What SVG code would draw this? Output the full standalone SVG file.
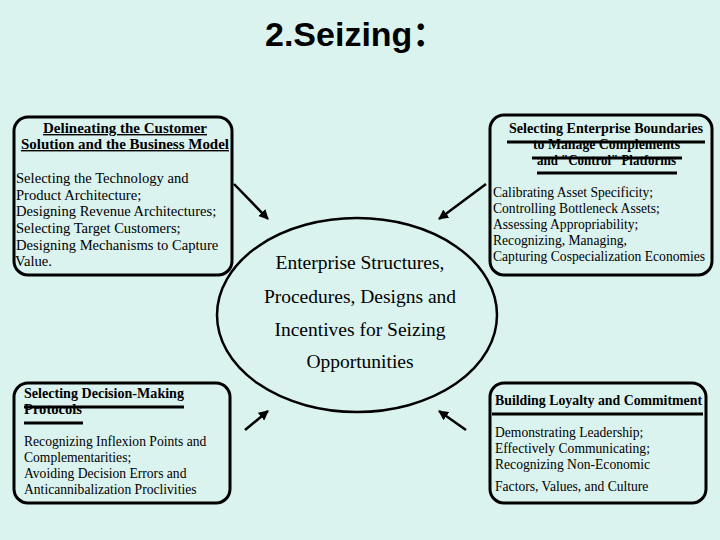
<svg xmlns="http://www.w3.org/2000/svg" width="720" height="540" viewBox="0 0 720 540">
<style>
.bg{fill:#DBF3EF}
.box{fill:none;stroke:#000;stroke-width:3}
.ul{stroke:#000;stroke-width:3}
.h{font-family:"Liberation Serif","DejaVu Serif",serif;font-weight:bold;font-size:14px;fill:#000}
.b{font-family:"Liberation Serif","DejaVu Serif",serif;font-size:14.6px;fill:#000}
.s{font-family:"Liberation Serif","DejaVu Serif",serif;font-size:13.6px;fill:#000}
.c{font-family:"Liberation Serif","DejaVu Serif",serif;font-size:19.5px;fill:#000;text-anchor:middle}
.t{font-family:"Liberation Sans","Noto Sans CJK SC",sans-serif;font-weight:bold;font-size:34px;fill:#000}
.conn{stroke:#000;stroke-width:2.5;fill:none;marker-end:url(#ah)}
</style>
<defs>
<marker id="ah" viewBox="0 0 10 10" refX="9" refY="5" markerWidth="4" markerHeight="4" orient="auto" markerUnits="strokeWidth">
<path d="M0,0 L10,5 L0,10 z" fill="#000"/>
</marker>
</defs>
<rect class="bg" x="0" y="0" width="720" height="540"/>
<text id="title" class="t" x="265" y="46">2.Seizing：</text>

<g id="center">
<ellipse cx="357" cy="315" rx="140" ry="97" fill="none" stroke="#000" stroke-width="2.5"/>
<text class="c" x="360" y="269">Enterprise Structures,</text>
<text class="c" x="360" y="303">Procedures, Designs and</text>
<text class="c" x="360" y="336">Incentives for Seizing</text>
<text class="c" x="360" y="368">Opportunities</text>
</g>

<g id="box-tl">
<rect class="box" x="14" y="117" width="218" height="158" rx="14"/>
<text class="h" x="43" y="133" textLength="164" lengthAdjust="spacingAndGlyphs" text-decoration="underline">Delineating the Customer</text>
<text class="h" x="21" y="149" textLength="208" lengthAdjust="spacingAndGlyphs" text-decoration="underline">Solution and the Business Model</text>
<text class="b" x="16" y="183">Selecting the Technology and</text>
<text class="b" x="16" y="200">Product Architecture;</text>
<text class="b" x="16" y="216">Designing Revenue Architectures;</text>
<text class="b" x="16" y="233">Selecting Target Customers;</text>
<text class="b" x="16" y="250">Designing Mechanisms to Capture</text>
<text class="b" x="15" y="266">Value.</text>
</g>

<g id="box-tr">
<rect class="box" x="490" y="115" width="222" height="160" rx="14"/>
<text class="h" x="509" y="133" textLength="194" lengthAdjust="spacingAndGlyphs">Selecting Enterprise Boundaries</text>
<text class="h" x="533" y="149" textLength="147" lengthAdjust="spacingAndGlyphs">to Manage Complements</text>
<text class="h" x="537" y="165" textLength="139" lengthAdjust="spacingAndGlyphs">and "Control" Platforms</text>
<line class="ul" x1="507" y1="142" x2="705" y2="142"/>
<line class="ul" x1="532" y1="158" x2="682" y2="158"/>
<line class="ul" x1="537" y1="173" x2="677" y2="173"/>
<text class="s" x="493" y="197">Calibrating Asset Specificity;</text>
<text class="s" x="493" y="213">Controlling Bottleneck Assets;</text>
<text class="s" x="493" y="229">Assessing Appropriability;</text>
<text class="s" x="493" y="245">Recognizing, Managing,</text>
<text class="s" x="493" y="261">Capturing Cospecialization Economies</text>
</g>

<g id="box-bl">
<rect class="box" x="14" y="383" width="216" height="120" rx="14"/>
<text class="h" x="24" y="398" textLength="160" lengthAdjust="spacingAndGlyphs">Selecting Decision-Making</text>
<text class="h" x="24" y="414" textLength="58" lengthAdjust="spacingAndGlyphs">Protocols</text>
<line class="ul" x1="24" y1="407" x2="184" y2="407"/>
<line class="ul" x1="24" y1="423" x2="83" y2="423"/>
<text class="s" x="24" y="446">Recognizing Inflexion Points and</text>
<text class="s" x="24" y="462">Complementarities;</text>
<text class="s" x="24" y="478">Avoiding Decision Errors and</text>
<text class="s" x="24" y="494">Anticannibalization Proclivities</text>
</g>

<g id="box-br">
<rect class="box" x="490" y="383" width="216" height="120" rx="14"/>
<text class="h" x="495" y="405" textLength="207" lengthAdjust="spacingAndGlyphs">Building Loyalty and Commitment</text>
<line class="ul" x1="492" y1="414" x2="703" y2="414"/>
<text class="s" x="495" y="437">Demonstrating Leadership;</text>
<text class="s" x="495" y="453">Effectively Communicating;</text>
<text class="s" x="495" y="469">Recognizing Non-Economic</text>
<text class="s" x="495" y="491">Factors, Values, and Culture</text>
</g>

<g id="connectors">
<line class="conn" x1="234" y1="184" x2="268" y2="219"/>
<line class="conn" x1="486" y1="184" x2="439" y2="219"/>
<line class="conn" x1="245" y1="430" x2="268" y2="411"/>
<line class="conn" x1="466" y1="430" x2="439" y2="411"/>
</g>
</svg>
